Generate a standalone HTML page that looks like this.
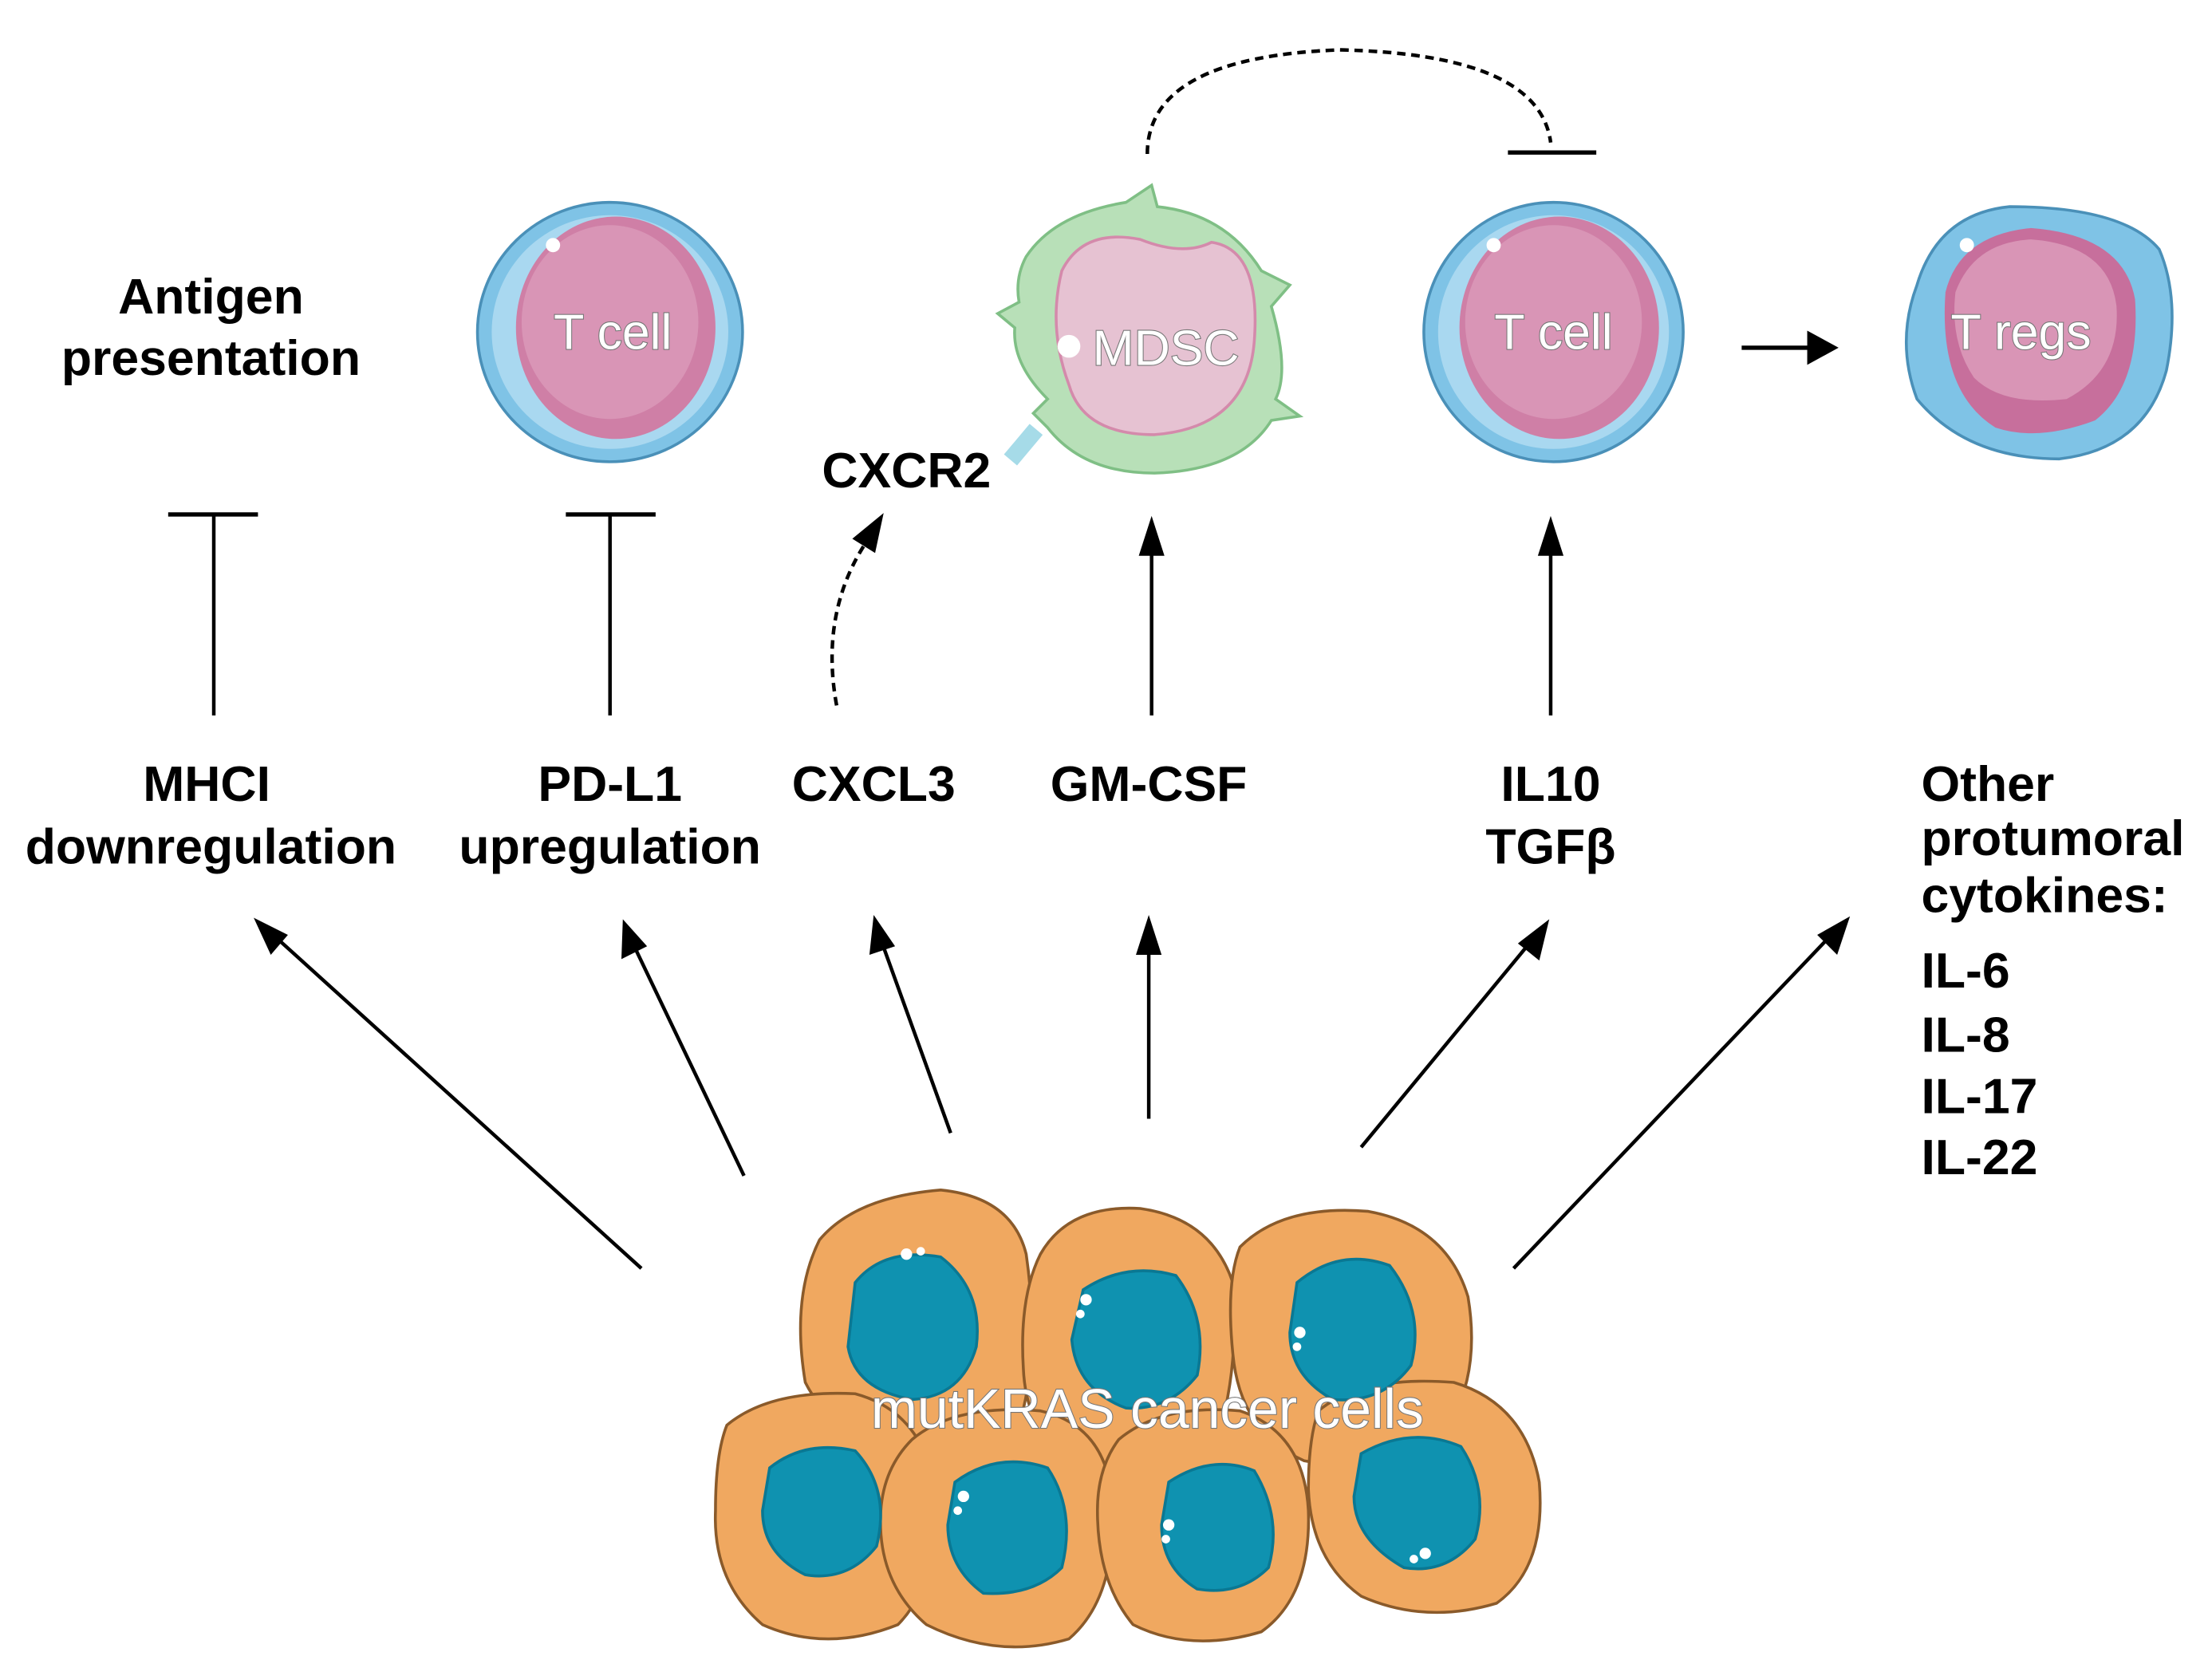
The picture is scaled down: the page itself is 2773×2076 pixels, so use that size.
<!DOCTYPE html>
<html><head><meta charset="utf-8"><style>
html,body{margin:0;padding:0;background:#fff;}
svg{display:block;}
text{font-family:"Liberation Sans",sans-serif;}
.b{font-weight:bold;font-size:35px;fill:#000;text-anchor:middle;}
.bl{font-weight:bold;font-size:35px;fill:#000;}
.w{font-size:35px;fill:#fff;stroke:#777;stroke-width:1.2;text-anchor:middle;paint-order:stroke;}
</style></head><body>
<svg width="2773" height="2076" viewBox="0 0 1552 1162" preserveAspectRatio="none" xmlns="http://www.w3.org/2000/svg">
<text class="b" x="148" y="220">Antigen</text>
<text class="b" x="148" y="263">presentation</text>

<g>
<ellipse cx="428" cy="233" rx="93" ry="91" fill="#7fc3e6" stroke="#4a90b8" stroke-width="2"/>
<ellipse cx="428" cy="233" rx="83" ry="82" fill="#a9d8f0"/>
<ellipse cx="432" cy="230" rx="70" ry="78" fill="#cf7fa6"/>
<ellipse cx="428" cy="226" rx="62" ry="68" fill="#d995b6"/>
<circle cx="388" cy="172" r="5" fill="#fff"/>
<text class="w" x="430" y="245">T cell</text>
</g>

<g>
<path d="M720 180 Q740 150 790 142 L808 130 L812 145 Q860 150 885 190 L905 200 L892 215 Q905 260 895 280 L912 292 L892 295 Q870 330 810 332 Q760 332 735 300 L725 290 L735 280 Q710 255 712 230 L700 220 L715 212 Q712 195 720 180 Z" fill="#b8e0b8" stroke="#7fbf85" stroke-width="2"/>
<path d="M745 190 Q760 160 800 168 Q830 180 850 170 Q885 175 880 240 Q875 300 810 305 Q760 305 750 270 Q735 230 745 190 Z" fill="#e6c2d2" stroke="#d48aab" stroke-width="2"/>
<circle cx="750" cy="243" r="8" fill="#fff"/>
<rect x="712" y="298" width="12" height="28" fill="#a6dbe8" transform="rotate(40 718 312)"/>
<text class="w" x="818" y="256">MDSC</text>
</g>

<g>
<ellipse cx="1090" cy="233" rx="91" ry="91" fill="#7fc3e6" stroke="#4a90b8" stroke-width="2"/>
<ellipse cx="1090" cy="233" rx="81" ry="82" fill="#a9d8f0"/>
<ellipse cx="1094" cy="230" rx="70" ry="78" fill="#cf7fa6"/>
<ellipse cx="1090" cy="226" rx="62" ry="68" fill="#d995b6"/>
<circle cx="1048" cy="172" r="5" fill="#fff"/>
<text class="w" x="1090" y="245">T cell</text>
</g>

<g>
<path d="M1345 200 Q1360 150 1410 145 Q1490 145 1515 175 Q1530 210 1520 260 Q1505 315 1445 322 Q1380 322 1345 280 Q1330 240 1345 200 Z" fill="#7fc3e6" stroke="#4a90b8" stroke-width="2"/>
<path d="M1365 205 Q1375 165 1425 160 Q1490 165 1498 210 Q1502 270 1470 295 Q1430 310 1400 300 Q1360 275 1365 205 Z" fill="#c76f9c"/>
<path d="M1372 205 Q1385 170 1425 168 Q1480 172 1485 215 Q1488 260 1450 280 Q1405 285 1385 265 Q1368 240 1372 205 Z" fill="#d995b6"/>
<circle cx="1380" cy="172" r="5" fill="#fff"/>
<text class="w" x="1418" y="245">T regs</text>
</g>

<line x1="1222" y1="244" x2="1272" y2="244" stroke="#000" stroke-width="3"/>
<polygon points="1290,244 1268,232 1268,256" fill="#000"/>

<path d="M805 108 Q805 40 940 35 Q1080 38 1088 100" fill="none" stroke="#000" stroke-width="2.5" stroke-dasharray="6,4"/>
<line x1="1058" y1="107" x2="1120" y2="107" stroke="#000" stroke-width="3"/>

<text class="b" x="636" y="342">CXCR2</text>

<line x1="150" y1="360" x2="150" y2="502" stroke="#000" stroke-width="2.5"/>
<line x1="118" y1="361" x2="181" y2="361" stroke="#000" stroke-width="3"/>
<line x1="428" y1="360" x2="428" y2="502" stroke="#000" stroke-width="2.5"/>
<line x1="397" y1="361" x2="460" y2="361" stroke="#000" stroke-width="3"/>

<path d="M587 495 Q575 430 608 380" fill="none" stroke="#000" stroke-width="2.5" stroke-dasharray="6,4"/>
<polygon points="620,360 598,378 614,388" fill="#000"/>

<line x1="808" y1="502" x2="808" y2="385" stroke="#000" stroke-width="2.5"/>
<polygon points="808,362 799,390 817,390" fill="#000"/>
<line x1="1088" y1="502" x2="1088" y2="385" stroke="#000" stroke-width="2.5"/>
<polygon points="1088,362 1079,390 1097,390" fill="#000"/>

<text class="b" x="145" y="562">MHCI</text>
<text class="b" x="148" y="606">downregulation</text>
<text class="b" x="428" y="562">PD-L1</text>
<text class="b" x="428" y="606">upregulation</text>
<text class="b" x="613" y="562">CXCL3</text>
<text class="b" x="806" y="562">GM-CSF</text>
<text class="b" x="1088" y="562">IL10</text>
<text class="b" x="1088" y="606">TGFβ</text>
<text class="bl" x="1348" y="562">Other</text>
<text class="bl" x="1348" y="600">protumoral</text>
<text class="bl" x="1348" y="640">cytokines:</text>
<text class="bl" x="1348" y="693">IL-6</text>
<text class="bl" x="1348" y="738">IL-8</text>
<text class="bl" x="1348" y="781">IL-17</text>
<text class="bl" x="1348" y="824">IL-22</text>

<g stroke="#000" stroke-width="2.5">
<line x1="450" y1="890" x2="195" y2="659"/>
<line x1="522" y1="825" x2="445" y2="664"/>
<line x1="667" y1="795" x2="619" y2="662"/>
<line x1="806" y1="785" x2="806" y2="665"/>
<line x1="955" y1="805" x2="1073" y2="662"/>
<line x1="1062" y1="890" x2="1283" y2="658"/>
</g>
<g fill="#000">
<polygon points="178,644 190,670 202,656" />
<polygon points="437,645 436,673 454,664"/>
<polygon points="613,642 610,670 628,664"/>
<polygon points="806,642 797,670 815,670"/>
<polygon points="1087,645 1065,662 1080,674"/>
<polygon points="1298,643 1275,656 1289,670"/>
</g>

<g stroke="#8a5a2a" stroke-width="2">
<path d="M575 870 Q600 840 660 835 Q710 840 720 880 Q730 950 715 1000 Q690 1020 640 1015 Q585 1010 565 970 Q555 910 575 870 Z" fill="#f0a860"/>
<path d="M730 880 Q750 845 800 848 Q850 855 865 900 Q870 970 850 1020 Q810 1040 760 1030 Q720 1010 718 960 Q715 910 730 880 Z" fill="#f0a860"/>
<path d="M870 875 Q900 845 960 850 Q1015 860 1030 910 Q1040 970 1010 1010 Q970 1035 915 1025 Q870 1005 865 950 Q860 900 870 875 Z" fill="#f0a860"/>
<path d="M510 1000 Q540 975 600 978 Q645 990 655 1040 Q660 1110 630 1140 Q580 1160 535 1140 Q500 1110 502 1060 Q502 1020 510 1000 Z" fill="#f0a860"/>
<path d="M640 1010 Q670 985 730 990 Q775 1000 780 1050 Q785 1120 750 1150 Q700 1165 650 1140 Q615 1110 618 1060 Q620 1030 640 1010 Z" fill="#f0a860"/>
<path d="M785 1010 Q815 985 870 990 Q915 1005 918 1060 Q920 1120 885 1145 Q835 1160 795 1140 Q770 1110 770 1060 Q770 1030 785 1010 Z" fill="#f0a860"/>
<path d="M925 990 Q955 965 1020 970 Q1070 985 1080 1040 Q1085 1100 1050 1125 Q1000 1140 955 1120 Q920 1095 918 1045 Q918 1010 925 990 Z" fill="#f0a860"/>
</g>
<g fill="#0f92b0" stroke="#0a7893" stroke-width="2">
<path d="M600 900 Q620 875 660 882 Q690 905 685 945 Q675 980 640 982 Q600 975 595 945 Z"/>
<path d="M760 905 Q790 885 825 895 Q848 925 840 965 Q820 990 790 988 Q755 975 752 940 Z"/>
<path d="M910 900 Q940 875 975 888 Q1000 920 990 958 Q970 985 935 982 Q905 965 905 935 Z"/>
<path d="M540 1030 Q565 1010 600 1018 Q625 1045 615 1085 Q595 1110 565 1105 Q535 1090 535 1060 Z"/>
<path d="M670 1040 Q700 1018 735 1030 Q755 1060 745 1100 Q725 1120 690 1118 Q665 1100 665 1070 Z"/>
<path d="M820 1040 Q850 1020 880 1032 Q900 1065 890 1100 Q870 1120 840 1115 Q815 1100 815 1070 Z"/>
<path d="M955 1020 Q990 1000 1025 1015 Q1045 1045 1035 1080 Q1015 1105 985 1100 Q950 1080 950 1050 Z"/>
</g>
<g fill="#fff">
<circle cx="636" cy="880" r="4"/><circle cx="646" cy="878" r="3"/>
<circle cx="762" cy="912" r="4"/><circle cx="758" cy="922" r="3"/>
<circle cx="912" cy="935" r="4"/><circle cx="910" cy="945" r="3"/>
<circle cx="676" cy="1050" r="4"/><circle cx="672" cy="1060" r="3"/>
<circle cx="820" cy="1070" r="4"/><circle cx="818" cy="1080" r="3"/>
<circle cx="1000" cy="1090" r="4"/><circle cx="992" cy="1094" r="3"/>
</g>
<text class="w" x="805" y="1002" style="font-size:39px">mutKRAS cancer cells</text>
</svg>
</body></html>
